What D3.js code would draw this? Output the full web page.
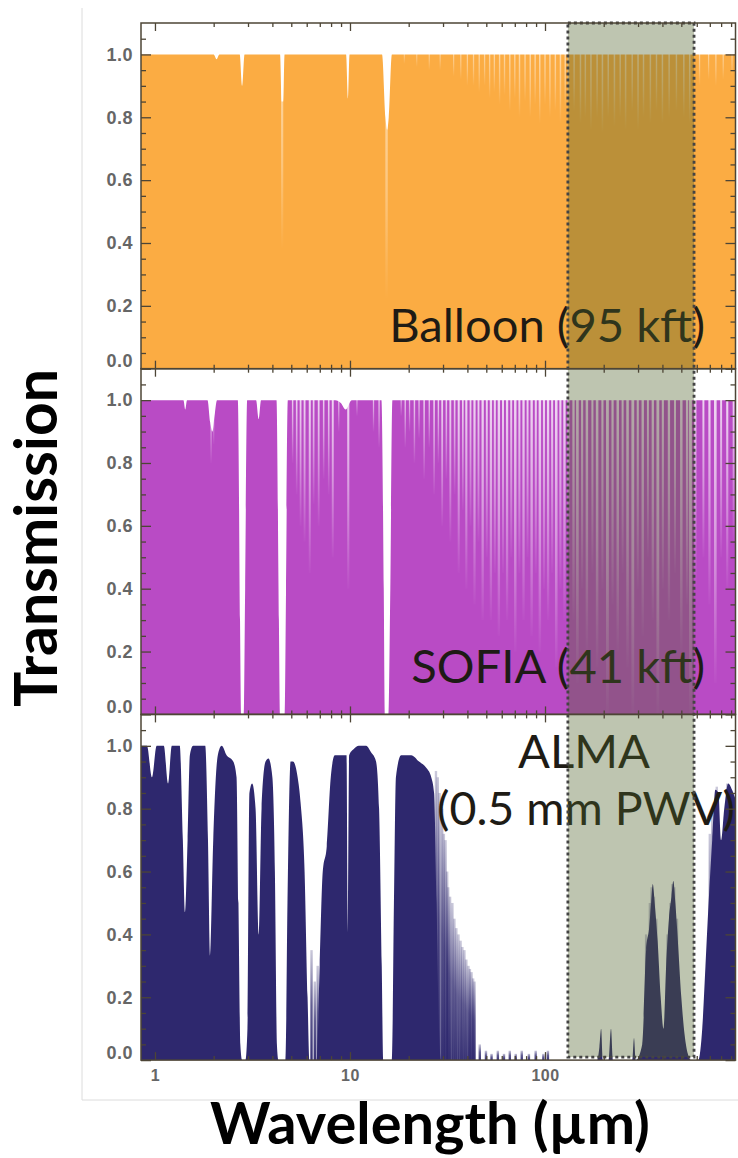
<!DOCTYPE html>
<html>
<head>
<meta charset="utf-8">
<script src="https://cdn.jsdelivr.net/npm/d3@7"></script>
<style>
body { margin: 0; background: #fff; }
.ticklab { font-family: "Liberation Sans", Arial, sans-serif; font-weight: bold; font-size: 18px; fill: #666; letter-spacing: 0.5px; }
.plabel { font-family: Lato, "Open Sans", sans-serif; fill: #1e1b15; }
.atitle { font-family: Lato, "Open Sans", sans-serif; font-weight: bold; fill: #000; }
</style>
</head>
<body>
<svg width="738" height="1158"></svg>
<script>
// ---- data ----
const lambdaDomain = [0.848, 948];
const yDomain = [0, 1.1];
const yMajor = [0, 0.2, 0.4, 0.6, 0.8, 1.0];
const yMinor = [0.05,0.1,0.15,0.25,0.3,0.35,0.45,0.5,0.55,0.65,0.7,0.75,0.85,0.9,0.95,1.05];
const xMajor = [1, 10, 100];
const xMinor = [2,3,4,5,6,7,8,9,20,30,40,50,60,70,80,90,200,300,400,500,600,700,800,900];
const shadeBand = [131, 581];
const panelLabels = ["Balloon (95 kft)", "SOFIA (41 kft)", "ALMA", "(0.5 mm PWV)"];

// [wavelength um, transmission]
const balloonT = [[0.848,1.0],[2.0,1.0],[2.07,0.985],[2.14,1.0],[2.72,1.0],[2.8,0.9],[2.88,1.0],
  [4.38,1.0],[4.46,0.85],[4.54,0.85],[4.62,1.0],[9.55,1.0],[9.75,0.86],[9.95,1.0],
  [14.6,1.0],[15.2,0.8],[15.5,0.76],[15.8,0.8],[16.4,1.0],[948,1.0]];
// narrow absorption lines [wavelength, lowest transmission]
const balloonLines = [[4.49,0.38],[15.4,0.22],[19,0.97],[22,0.96],[25.5,0.95],[29,0.95],[34,0.93],[37,0.92],
  [40,0.9],[43,0.9],[46,0.88],[49,0.9],[52,0.86],[55,0.88],[58.5,0.84],[62,0.87],[66,0.82],[70,0.86],
  [74,0.8],[79,0.85],[84,0.8],[89,0.84],[94,0.78],[100,0.84],[106,0.8],[113,0.82],[120,0.78],[127,0.83],
  [132,0.8],[141,0.82],[152,0.78],[161,0.8],[172,0.76],[185,0.8],[197,0.75],[211,0.8],[227,0.77],
  [243,0.8],[259,0.76],[280,0.82],[300,0.76],[320,0.8],[347,0.78],[373,0.82],[400,0.78],[433,0.8],
  [472,0.82],[515,0.8],[552,0.78],[620,0.9],[690,0.92],[752,0.9],[820,0.92],[910,0.93]];

const sofiaT = [[0.848,1.0],[1.4,1.0],[1.43,0.97],[1.46,1.0],[1.86,1.0],[1.92,0.93],[1.97,0.9],[2.02,0.95],
  [2.08,1.0],[2.66,1.0],[2.73,0.3],[2.77,0],[2.86,0],[2.9,0.4],[2.97,1.0],[3.3,1.0],[3.4,0.94],[3.5,1.0],
  [4.2,1.0],[4.32,0.3],[4.38,0],[4.62,0],[4.7,0.4],[4.8,1.0],[8.4,1.0],[9.0,0.99],[9.5,0.97],[10.2,1.0],
  [14.5,1.0],[14.9,0.4],[15.1,0],[15.8,0],[16.1,0.4],[16.5,1.0],[948,1.0]];
const sofiaLines = [[1.94,0.8],[2.0,0.86],[5.08,0.8],[5.33,0.7],[5.58,0.6],[5.85,0.55],[6.22,0.45],[6.51,0.67],
  [6.91,0.6],[7.33,0.75],[7.78,0.7],[8.16,0.5],[8.76,0.9],[9.8,0.4],[10.86,0.95],[13.2,0.9],[14.1,0.85],
  [18.3,0.95],[19.2,0.85],[20.2,0.9],[21.4,0.8],[22.6,0.88],[24.0,0.75],[25.5,0.85],[27.0,0.7],[28.4,0.8],
  [29.7,0.6],[31.2,0.75],[32.7,0.55],[34.4,0.7],[36.1,0.45],[37.9,0.65],[39.5,0.4],[41.5,0.6],[43.5,0.35],
  [45.6,0.55],[47.9,0.3],[50.3,0.5],[52.8,0.3],[55.3,0.45],[58,0.25],[60.9,0.45],[63.9,0.3],[67.1,0.5],
  [70.4,0.2],[73.9,0.45],[77.6,0.3],[81.4,0.5],[85.4,0.25],[89.7,0.45],[94.1,0.2],[98.8,0.4],[103.7,0.3],
  [108.8,0.45],[114.2,0.15],[119.9,0.4],[125.8,0.3],[132,0.5],[140,0.3],[146.6,0.1],[155,0.4],[164,0.2],
  [175,0.45],[185,0.15],[197,0.4],[209,0],[222,0.35],[236,0.2],[250,0.45],[265,0.15],[282,0],[299,0.4],
  [317,0.25],[337,0.5],[357,0.3],[379,0],[402,0.4],[432,0.3],[464,0.45],[500,0.2],[535,0.35],[557,0],
  [590,0.4],[649,0.5],[697,0.35],[747,0.1],[800,0.5],[860,0.4],[927,0.55]];

const almaT = [[0.848,1.0],[0.91,1.0],[0.965,0.9],[1.02,1.0],[1.11,1.0],[1.167,0.88],[1.22,1.0],[1.34,1.0],
  [1.39,0.7],[1.427,0.47],[1.47,0.7],[1.51,0.97],[1.57,1.0],[1.81,1.0],[1.87,0.7],[1.92,0.33],[1.99,0.7],
  [2.1,0.97],[2.2,1.0],[2.33,0.97],[2.52,0.95],[2.62,0.9],[2.68,0.5],[2.74,0.05],[2.8,0],[2.91,0],[2.98,0.1],
  [3.05,0.85],[3.15,0.88],[3.28,0.8],[3.4,0.4],[3.52,0.8],[3.69,0.95],[3.82,0.96],[4.0,0.9],[4.12,0.6],
  [4.22,0.05],[4.3,0],[4.67,0],[4.78,0.5],[4.96,0.95],[5.1,0.95],[5.39,0.9],[5.58,0.82],[5.85,0.6],
  [6.06,0.2],[6.2,0],[6.75,0],[6.99,0.3],[7.25,0.6],[7.6,0.68],[7.97,0.9],[8.36,0.97],[9.6,0.97],
  [9.75,0.4],[9.9,0.97],[10.46,0.99],[11.1,1.0],[12.1,1.0],[12.8,0.98],[13.6,0.95],[14.1,0.8],[14.55,0.3],
  [14.8,0],[16.4,0],[16.8,0.5],[17.2,0.9],[18.3,0.97],[20.6,0.97],[22.6,0.95],[24.6,0.93],[26.1,0.9],
  [27.0,0.85],[27.8,0.5],[28.6,0.1],[29.3,0],[185,0],[190,0.04],[194,0.1],[198,0],[212,0],[218,0.1],
  [223,0],[280,0],[286,0.07],[292,0],[315,0.05],[330,0.35],[342,0.42],[350,0.5],[357,0.56],[365,0.5],
  [378,0.38],[392,0.2],[405,0.1],[418,0.3],[432,0.45],[445,0.52],[455,0.57],[466,0.5],[480,0.38],
  [500,0.2],[520,0.08],[540,0.02],[560,0],[610,0],[640,0.1],[665,0.3],[690,0.5],[720,0.7],[747,0.86],
  [775,0.85],[800,0.7],[830,0.8],[870,0.88],[910,0.86],[948,0.83]];
// narrow transmission spikes [wavelength, peak transmission]
const almaLines = [[6.35,0.35],[6.6,0.25],[6.83,0.3],[27.6,0.92],[28.2,0.9],[28.8,0.85],[29.7,0.8],
  [30.3,0.72],[30.9,0.7],[31.5,0.6],[31.9,0.55],[32.6,0.52],[33.5,0.5],[34.3,0.45],[35.1,0.42],[36,0.4],
  [36.9,0.38],[37.7,0.36],[38.6,0.35],[39.5,0.32],[40.5,0.3],[41.2,0.29],[42,0.28],[42.8,0.26],[43.5,0.25],
  [46.3,0.05],[49.8,0.03],[53.2,0.02],[57.3,0.03],[61.6,0.02],[66,0.03],[70.8,0.02],[76,0.03],[82.7,0.02],
  [89.6,0.03],[98.1,0.02],[103.5,0.03],[330,0.4],[345,0.5],[352,0.55],[362,0.52],[372,0.45],[425,0.4],
  [440,0.5],[450,0.56],[460,0.55],[475,0.45],[700,0.72],[720,0.78],[760,0.87],[860,0.88]];

// ---- layout ----
const L = 141, R = 735.5, T0 = 23, PH = 345.7;
const svg = d3.select("svg");
const x = d3.scaleLog().domain(lambdaDomain).range([L, R]);
// deeper lines drawn a little wider
const lineW = d3.scaleLinear().domain([1, 0]).range([1.1, 2.8]);

const defs = svg.append("defs");
function grad(id, col, stops) {
  const g = defs.append("linearGradient").attr("id", id).attr("x1",0).attr("y1",0).attr("x2",0).attr("y2",1);
  stops.forEach(s => g.append("stop").attr("offset", s[0]).attr("stop-color", col).attr("stop-opacity", s[1]));
}
grad("fadeWhite0", "#fff", [[0, 0.6], [0.6, 0.3], [1, 0]]);
grad("fadeWhite1", "#fff", [[0, 0.8], [0.5, 0.45], [1, 0.02]]);
grad("riseNavy", "#2e286e", [[0, 0.25], [0.5, 0.75], [1, 0.95]]);

const panels = [
  {fill: "#fbac43", data: balloonT, lines: balloonLines, kind: "abs"},
  {fill: "#b94bc5", data: sofiaT, lines: sofiaLines, kind: "abs"},
  {fill: "#2e286e", data: almaT, lines: almaLines, kind: "emit"}
];

// outer light frame
svg.append("line").attr("x1", 82).attr("x2", 82).attr("y1", 8).attr("y2", 1100).attr("stroke", "#dcdcdc");
svg.append("line").attr("x1", 82).attr("x2", 738).attr("y1", 1100).attr("y2", 1100).attr("stroke", "#dcdcdc");

const ys = [];
panels.forEach(function(p, i) {
  const top = T0 + i * PH, bot = top + PH;
  const y = d3.scaleLinear().domain(yDomain).range([bot, top]);
  ys.push(y);
  defs.append("clipPath").attr("id", "clip" + i)
    .append("rect").attr("x", L).attr("y", top).attr("width", R - L).attr("height", PH);
  const g = svg.append("g").attr("clip-path", "url(#clip" + i + ")");

  const area = d3.area().x(d => x(d[0])).y0(bot).y1(d => y(d[1])).curve(d3.curveMonotoneX);
  g.append("path").datum(p.data).attr("d", area).attr("fill", p.fill);

  if (p.kind == "abs") {
    g.selectAll("rect.ln").data(p.lines).enter().append("rect")
      .attr("x", d => x(d[0]) - lineW(d[1]) / 2).attr("width", d => lineW(d[1]))
      .attr("y", y(1.03)).attr("height", d => y(d[1]) - y(1.03))
      .attr("fill", "url(#fadeWhite" + i + ")");
  } else {
    g.selectAll("rect.ln").data(p.lines).enter().append("rect")
      .attr("x", d => x(d[0]) - 1.2).attr("width", 2.4)
      .attr("y", d => y(d[1])).attr("height", d => bot - y(d[1]))
      .attr("fill", "url(#riseNavy)");
  }
});

// panel labels
const lb = svg.append("text").attr("class", "plabel").attr("x", 705).attr("y", 342)
  .attr("text-anchor", "end").attr("font-size", 40).text(panelLabels[0]);
const fs = 40 * 316 / lb.node().getComputedTextLength();
lb.attr("font-size", fs);
svg.append("text").attr("class", "plabel").attr("x", 705).attr("y", 683)
  .attr("text-anchor", "end").attr("font-size", fs).text(panelLabels[1]);
svg.append("text").attr("class", "plabel").attr("x", 584).attr("y", 768)
  .attr("text-anchor", "middle").attr("font-size", fs).text(panelLabels[2]);
const pw = svg.append("text").attr("class", "plabel").attr("x", 735).attr("y", 825)
  .attr("text-anchor", "end").attr("font-size", fs).text(panelLabels[3]);
if (pw.node().getComputedTextLength() > 298) pw.attr("font-size", fs * 298 / pw.node().getComputedTextLength());

// shaded band across all panels
const bx0 = x(shadeBand[0]), bx1 = x(shadeBand[1]);
svg.append("rect").attr("x", bx0).attr("y", T0).attr("width", bx1 - bx0).attr("height", 3 * PH - 3)
  .attr("fill", "#4e6128").attr("fill-opacity", 0.37)
  .attr("stroke", "#444").attr("stroke-width", 2.8).attr("stroke-dasharray", "3,3");

// axes
const axisCol = "#4d4536";
function styleAxis(sel) {
  sel.select(".domain").remove();
  sel.selectAll("line").attr("stroke", axisCol).attr("stroke-width", 1.3);
  sel.selectAll("text").attr("class", "ticklab").attr("fill", null);
}
ys.forEach(function(y, i) {
  const top = T0 + i * PH, bot = top + PH;
  svg.append("g").attr("transform", "translate(" + L + ",0)")
    .call(d3.axisLeft(y).tickValues(yMajor).tickSize(-10).tickPadding(8).tickFormat(d3.format(".1f")))
    .call(styleAxis)
    .selectAll("text").filter(d => d == 0).attr("dy", "-0.1em");
  svg.append("g").attr("transform", "translate(" + L + ",0)")
    .call(d3.axisLeft(y).tickValues(yMinor).tickSize(-5).tickFormat("")).call(styleAxis);
  svg.append("g").attr("transform", "translate(" + R + ",0)")
    .call(d3.axisRight(y).tickValues(yMajor).tickSize(-10).tickFormat("")).call(styleAxis);
  svg.append("g").attr("transform", "translate(" + R + ",0)")
    .call(d3.axisRight(y).tickValues(yMinor).tickSize(-5).tickFormat("")).call(styleAxis);

  const bAx = d3.axisBottom(x).tickValues(xMajor).tickSize(-8).tickPadding(10)
    .tickFormat(i == 2 ? d3.format("d") : "");
  svg.append("g").attr("class", "xax").attr("transform", "translate(0," + bot + ")").call(bAx).call(styleAxis);
  svg.append("g").attr("transform", "translate(0," + bot + ")")
    .call(d3.axisBottom(x).tickValues(xMinor).tickSize(-4).tickFormat("")).call(styleAxis);
  svg.append("g").attr("transform", "translate(0," + top + ")")
    .call(d3.axisTop(x).tickValues(xMajor).tickSize(-8).tickFormat("")).call(styleAxis);
  svg.append("g").attr("transform", "translate(0," + top + ")")
    .call(d3.axisTop(x).tickValues(xMinor).tickSize(-4).tickFormat("")).call(styleAxis);

  svg.append("rect").attr("x", L).attr("y", top).attr("width", R - L).attr("height", PH)
    .attr("fill", "none").attr("stroke", axisCol).attr("stroke-width", 1.5);
});
svg.selectAll(".xax text").style("font-size", "16px");

// axis titles
const tt = svg.append("text").attr("class", "atitle").attr("text-anchor", "middle")
  .attr("transform", "translate(57,538) rotate(-90)").attr("font-size", 50).text("Transmission");
tt.attr("font-size", 50 * 338 / tt.node().getComputedTextLength());
const wt = svg.append("text").attr("class", "atitle").attr("text-anchor", "middle")
  .attr("x", 430).attr("y", 1144).attr("font-size", 50).text("Wavelength (µm)");
wt.attr("font-size", 50 * 440 / wt.node().getComputedTextLength());
</script>
</body>
</html>
